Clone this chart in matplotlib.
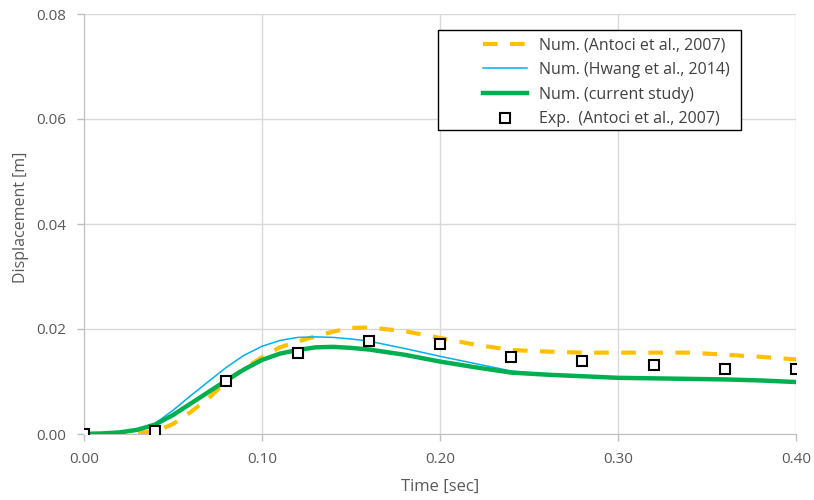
import matplotlib
matplotlib.use("Agg")
from matplotlib import pyplot as plt
from matplotlib.patches import Rectangle
from matplotlib.ticker import FormatStrFormatter

plt.rcParams['font.family'] = ['Open Sans', 'DejaVu Sans']

# time axis of the numerical curves
t_num = [0.00, 0.01, 0.02, 0.03, 0.04, 0.05, 0.06, 0.07, 0.08, 0.09, 0.10,
         0.11, 0.12, 0.13, 0.14, 0.15, 0.16, 0.18, 0.20, 0.22, 0.24, 0.26,
         0.28, 0.30, 0.32, 0.34, 0.36, 0.38, 0.40]

antoci_num = [0.0000, 0.0001, 0.0002, 0.0003, 0.0004, 0.0019, 0.0042, 0.0068,
              0.0100, 0.0125, 0.0146, 0.0165, 0.0176, 0.0186, 0.0195, 0.0202,
              0.0203, 0.0196, 0.0183, 0.0170, 0.0160, 0.0157, 0.0155, 0.0155,
              0.0155, 0.0155, 0.0151, 0.0147, 0.0142]

hwang_num = [0.0000, 0.0001, 0.0003, 0.0008, 0.0020, 0.0045, 0.0073, 0.0100,
             0.0127, 0.0150, 0.0167, 0.0178, 0.0184, 0.0185, 0.0184, 0.0181,
             0.0177, 0.0163, 0.0148, 0.0134, 0.0120, 0.0113, 0.0109, 0.0106,
             0.0105, 0.0104, 0.0103, 0.0102, 0.0100]

current_num = [0.0000, 0.0001, 0.0003, 0.0008, 0.0018, 0.0036, 0.0058, 0.0080,
               0.0102, 0.0123, 0.0141, 0.0153, 0.0160, 0.0165, 0.0166, 0.0164,
               0.0161, 0.0151, 0.0138, 0.0127, 0.0117, 0.0113, 0.0110, 0.0107,
               0.0106, 0.0105, 0.0104, 0.0102, 0.0099]

t_exp = [0.00, 0.04, 0.08, 0.12, 0.16, 0.20, 0.24, 0.28, 0.32, 0.36, 0.40]
antoci_exp = [0.0000, 0.0006, 0.0101, 0.0154, 0.0177, 0.0171, 0.0146, 0.0139,
              0.0131, 0.0123, 0.0124]

fig = plt.figure(figsize=(8.14, 5.0), dpi=100)
ax = fig.add_axes([0.103, 0.132, 0.875, 0.840])

ax.plot(t_num, antoci_num, color='#FFC000', lw=3, ls=(0, (3.5, 3)),
        label='Num. (Antoci et al., 2007)', zorder=3)
ax.plot(t_num, hwang_num, color='#00B0F0', lw=1.1,
        label='Num. (Hwang et al., 2014)', zorder=4)
ax.plot(t_num, current_num, color='#00B050', lw=3.2,
        label='Num. (current study)', zorder=5)
ax.plot(t_exp, antoci_exp, ls='none', marker='s', ms=7.5, mfc='white',
        mec='black', mew=1.5, label='Exp.  (Antoci et al., 2007)', zorder=6)

ax.set_xlim(0, 0.40)
ax.set_ylim(0, 0.08)
ax.set_xticks([0.0, 0.1, 0.2, 0.3, 0.4])
ax.set_yticks([0.0, 0.02, 0.04, 0.06, 0.08])
ax.xaxis.set_major_formatter(FormatStrFormatter('%.2f'))
ax.yaxis.set_major_formatter(FormatStrFormatter('%.2f'))
ax.grid(color='#D9D9D9', lw=1)
ax.set_axisbelow(True)
for s in ['top', 'right']:
    ax.spines[s].set_visible(False)
for s in ['left', 'bottom']:
    ax.spines[s].set_color('#BFBFBF')
ax.tick_params(colors='#BFBFBF', labelcolor='#595959', labelsize=11,
               length=5, width=1)
ax.tick_params(axis='x', pad=8)
ax.tick_params(axis='y', pad=8)

ax.set_xlabel('Time [sec]', fontsize=12, color='#595959', va='center')
ax.xaxis.set_label_coords(0.5, -0.126)
ax.set_ylabel('Displacement [m]', fontsize=11.5, color='#595959', va='center')
ax.yaxis.set_label_coords(-0.088, 0.517)

# legend frame is wider than its content, like the spreadsheet original
ax.add_patch(Rectangle((0.497, 0.724), 0.4256, 0.238, transform=ax.transAxes,
                       facecolor='white', edgecolor='black', lw=1,
                       zorder=7, clip_on=False))
leg = ax.legend(loc='upper left', bbox_to_anchor=(0.560, 0.945),
                frameon=False, fontsize=11.5, handlelength=2.75,
                borderpad=0, labelspacing=0.55, handletextpad=0.8,
                borderaxespad=0)
leg.set_zorder(8)
for txt in leg.get_texts():
    txt.set_color('#404040')

fig.savefig('out.png', dpi=100)
